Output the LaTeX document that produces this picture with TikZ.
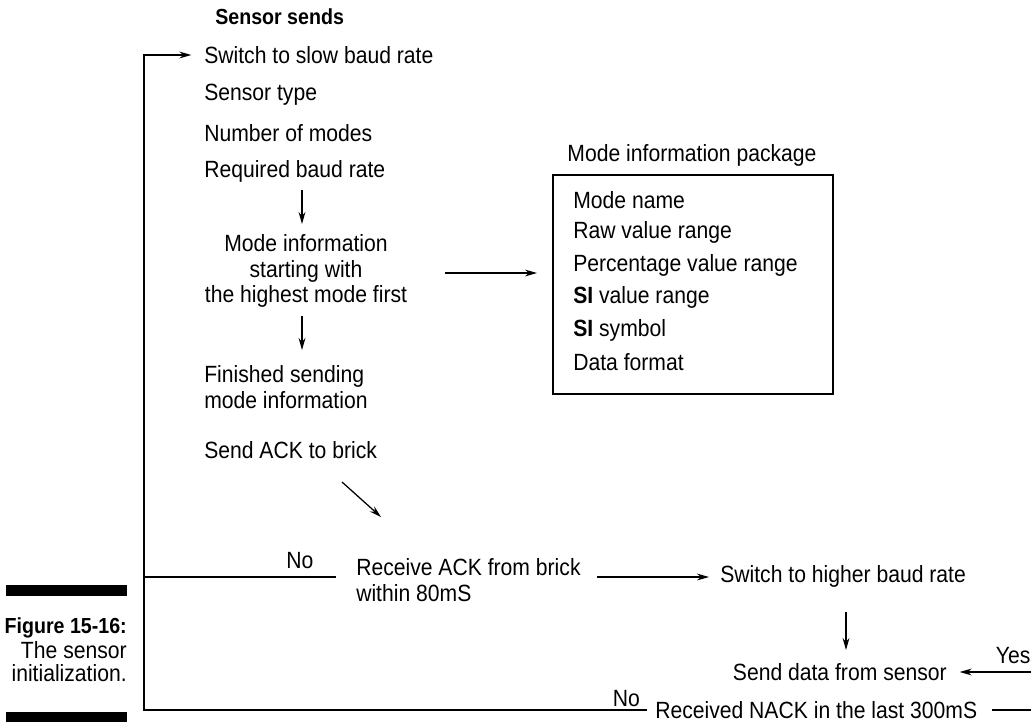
\documentclass[tikz,border=0pt]{standalone}
\usepackage{fontspec}
\setmainfont{Liberation Sans}[FakeStretch=0.9]
\usetikzlibrary{arrows.meta,positioning,calc}

\begin{document}
\begin{tikzpicture}[
  x=0.025cm, y=-0.025cm,
  txt/.style={inner sep=0pt, font=\fontsize{16.7}{18}\selectfont},
  head/.style={inner sep=0pt, font=\fontsize{15.5}{17}\selectfont\bfseries},
  captxt/.style={inner sep=0pt, anchor=east, font=\fontsize{16.7}{18}\selectfont},
  arr/.style={-{Stealth[length=3mm, width=1.7mm]}, line width=0.9pt},
  ln/.style={line width=0.9pt},
  bar/.style={fill=black, draw=none},
]
\useasboundingbox (0,0) rectangle (1031,724);
% left column
\node[head, anchor=west] (sends) at (215,17) {Sensor sends};
\node[txt, anchor=west] (slow) at (204,55) {Switch to slow baud rate};
\node[txt, anchor=west] (stype) at (204,95) {Sensor type};
\node[txt, anchor=west] (nmodes) at (204,133) {Number of modes};
\node[txt, anchor=west] (reqbaud) at (204,171) {Required baud rate};
\node[txt, align=center] (modeinfo) at (306,271) {Mode information\\starting with\\the highest mode first};
\node[txt, anchor=west, align=left] (finished) at (204,387) {Finished sending\\mode information};
\node[txt, anchor=west] (sendack) at (204,450) {Send ACK to brick};
\node[txt, anchor=west, align=left] (recvack) at (356,580) {Receive ACK from brick\\within 80mS};
\draw[arr] (302,190) -- (302,224);
\draw[arr] (302,316) -- (302,350);
\draw[arr] (342,482) -- (381,517);
% mode information package
\node[txt] (pkgtitle) at (692,155) {Mode information package};
\draw[ln] (553,175) rectangle (833,394);
\foreach \item [count=\i] in {Mode name, Raw value range, Percentage value range,
  {\textbf{SI} value range}, {\textbf{SI} symbol}, Data format}
  \node[txt, anchor=west] (pkg\i) at (573,{167.5+32.5*\i}) {\item};
\draw[arr] (445,273) -- (537,273);
% right column
\node[txt, anchor=west] (higher) at (720,576) {Switch to higher baud rate};
\node[txt, anchor=east] (senddata) at (947,672) {Send data from sensor};
\node[txt, anchor=west] (nack) at (655,710) {Received NACK in the last 300mS};
\coordinate (yesin) at (1031,672);
\coordinate (nackout) at (1031,710);
\coordinate (loopx) at (144,710);
\draw[arr] (597,577) -- (709,577);
\draw[arr] (846,612) -- (846,650);
\draw[arr] (yesin) -- node[txt, above=5.5pt, pos=0.25] {Yes} ([xshift=9pt]senddata.east);
\draw[ln] ([xshift=10pt]nack.east) -- (nackout);
% loop back on the left
\draw[ln] ([xshift=-14pt]recvack.west |- 0,577) -- node[txt, above=5.5pt, pos=0.19] {No} (loopx |- 0,577);
\draw[arr] ([xshift=-6pt]nack.west) -- node[txt, above=2pt, pos=0.04] {No} (loopx) |- ([xshift=-9pt]slow.west);
% caption
\fill[bar] (6,585) rectangle (127,596);
\fill[bar] (6,712) rectangle (127,722);
\node[captxt, font=\fontsize{15.5}{17}\selectfont\bfseries] (figno) at (127,628) {Figure 15-16:};
\node[captxt] (capa) at (127,650) {The sensor};
\node[captxt] (capb) at (127,673) {initialization.};
\end{tikzpicture}
\end{document}
